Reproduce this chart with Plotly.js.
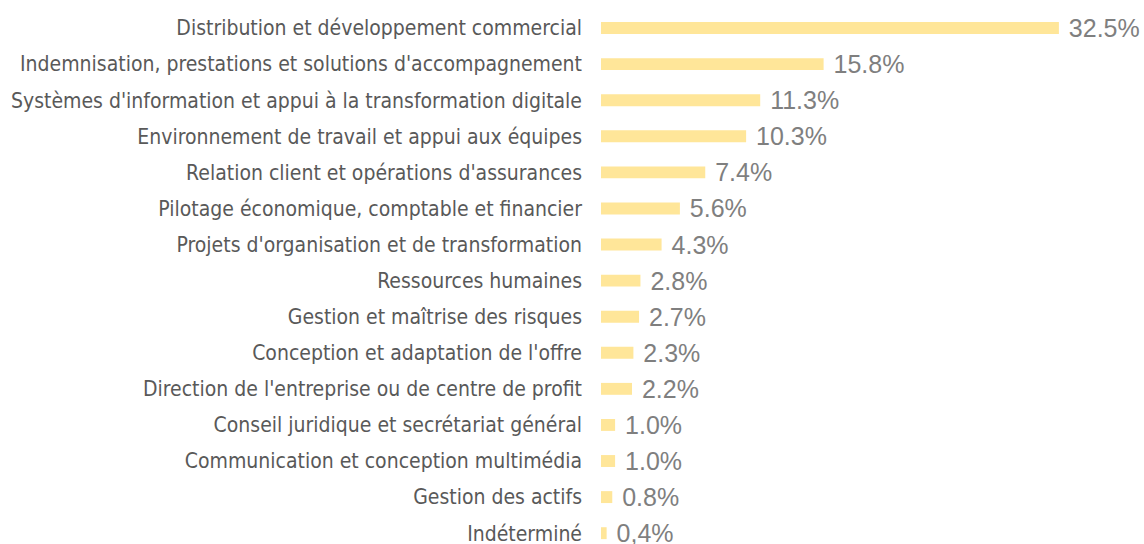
<!DOCTYPE html>
<html><head><meta charset="utf-8">
<script src="https://cdn.plot.ly/plotly-3.0.1.min.js"></script>
<style>html,body{margin:0;padding:0;background:#fff;}#chart{width:1144px;height:544px;}</style>
</head><body><div id="chart"></div>
<script>
const categories = [
  "Distribution et développement commercial",
  "Indemnisation, prestations et solutions d'accompagnement",
  "Systèmes d'information et appui à la transformation digitale",
  "Environnement de travail et appui aux équipes",
  "Relation client et opérations d'assurances",
  "Pilotage économique, comptable et financier",
  "Projets d'organisation et de transformation",
  "Ressources humaines",
  "Gestion et maîtrise des risques",
  "Conception et adaptation de l'offre",
  "Direction de l'entreprise ou de centre de profit",
  "Conseil juridique et secrétariat général",
  "Communication et conception multimédia",
  "Gestion des actifs",
  "Indéterminé"
];
const values = [32.5, 15.8, 11.3, 10.3, 7.4, 5.6, 4.3, 2.8, 2.7, 2.3, 2.2, 1.0, 1.0, 0.8, 0.4];
const valueLabels = ["32.5%","15.8%","11.3%","10.3%","7.4%","5.6%","4.3%","2.8%","2.7%","2.3%","2.2%","1.0%","1.0%","0.8%","0,4%"];

const trace = {
  type: 'bar', orientation: 'h',
  x: values, y: categories,
  text: valueLabels, texttemplate: '\u00a0%{text}',
  textposition: 'outside', cliponaxis: false, constraintext: 'none',
  textfont: {family: 'Liberation Sans, Arial, sans-serif', size: 25, color: '#7F7F7F'},
  marker: {color: '#FFE699'},
  hoverinfo: 'none'
};
const layout = {
  width: 1144, height: 544,
  margin: {l: 601, r: 0, t: 10, b: 0, pad: 0},
  paper_bgcolor: '#fff', plot_bgcolor: '#fff',
  bargap: 0.67,
  showlegend: false,
  xaxis: {range: [0, 38.54], visible: false, showgrid: false, zeroline: false},
  yaxis: {
    type: 'category', categoryorder: 'array', categoryarray: categories,
    range: [14.30, -0.5], showgrid: false, zeroline: false, showline: false,
    ticks: '', ticklabelstandoff: 18,
    tickfont: {family: 'DejaVu Sans Condensed, sans-serif', size: 21, color: '#595959'}
  }
};
Plotly.newPlot('chart', [trace], layout, {staticPlot: true});
</script></body></html>
